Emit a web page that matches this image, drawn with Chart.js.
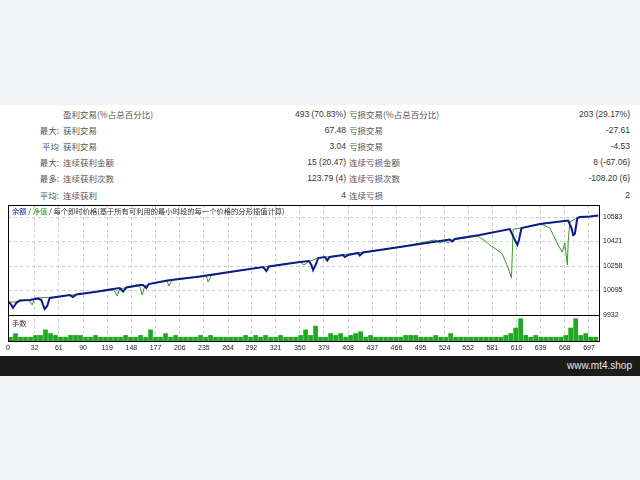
<!DOCTYPE html>
<html><head><meta charset="utf-8">
<script src="https://cdn.jsdelivr.net/npm/chart.js@4"></script>
<style>
html,body{margin:0;padding:0;width:640px;height:480px;background:#f2f3f5;overflow:hidden;font-family:"Liberation Sans","Noto Sans CJK SC",sans-serif;}
#white{position:absolute;left:0;top:105px;width:640px;height:251px;background:#fff;}
#footer{position:absolute;left:0;top:356px;width:640px;height:20px;background:#1c1c1c;}
#footer span{position:absolute;right:8px;top:0;line-height:20px;font-size:10px;color:#e6e6e6;font-family:"Liberation Sans",sans-serif;}
.row{position:absolute;left:0;width:640px;height:16px;line-height:16px;font-size:8.5px;color:#444;}
.c{position:absolute;top:0;white-space:nowrap;}
.lab{color:#555;font-family:"Noto Sans CJK SC","Liberation Sans",sans-serif;}
.val{color:#333;}
#chartBox{position:absolute;left:0;top:195px;width:640px;height:160px;}
</style></head>
<body>
<div id="white"></div>
<div id="table"></div>
<div id="chartBox"><canvas id="c" width="640" height="160"></canvas></div>
<div id="footer"><span>www.mt4.shop</span></div>
<script>
// ---------- table data ----------
const rowHead    = ["", "最大:", "平均", "最大:", "最多:", "平均:"];
const winLabels  = ["盈利交易(%占总百分比)", "获利交易", "获利交易", "连续获利金额", "连续获利次数", "连续获利"];
const winValues  = ["493 (70.83%)", "67.48", "3.04", "15 (20.47)", "123.79 (4)", "4"];
const lossLabels = ["亏损交易(%占总百分比)", "亏损交易", "亏损交易", "连续亏损金额", "连续亏损次数", "连续亏损"];
const lossValues = ["203 (29.17%)", "-27.61", "-4.53", "8 (-67.06)", "-108.20 (6)", "2"];

// ---------- chart data ----------
const xTickVals = [0,32,61,90,119,148,177,206,235,264,292,321,350,379,408,437,466,495,524,552,581,610,639,668,697];
const yTickVals = [9932,10095,10258,10421,10583];

const balIdx = [0,4,6,10,14,26,36,40,42,44,47,50,62,74,78,82,104,122,134,138,142,158,162,166,169,191,230,270,306,310,313,350,361,364,366,370,372,380,383,386,402,404,408,420,422,426,470,530,533,536,566,602,607,611,613,616,638,672,676,678,680,683,686,698,708];
const balVal = [10025,9999,9979,10012,10028,10032,10042,10032,9999,9972,9992,10045,10055,10065,10052,10068,10085,10102,10112,10088,10115,10132,10132,10112,10138,10162,10188,10221,10251,10225,10255,10285,10291,10265,10231,10278,10311,10318,10295,10318,10331,10318,10331,10345,10328,10348,10384,10434,10421,10438,10464,10504,10444,10398,10431,10511,10537,10561,10511,10464,10471,10577,10584,10587,10594];

const eqIdx = [0,7,14,25,29,32,42,47,50,62,82,104,127,131,134,142,158,161,164,169,191,193,197,238,240,244,270,306,350,355,360,372,420,470,512,518,524,528,533,563,571,578,587,593,596,600,604,606,616,638,642,650,656,660,665,668,671,672,674,683,708];
const eqVal = [10018,10018,10025,10032,9999,10045,10048,10048,10045,10055,10068,10085,10098,10058,10105,10115,10125,10065,10125,10138,10158,10125,10165,10191,10152,10195,10221,10251,10285,10265,10285,10311,10345,10384,10431,10411,10424,10411,10431,10458,10431,10398,10364,10338,10298,10245,10178,10504,10511,10537,10531,10511,10444,10398,10351,10411,10265,10418,10551,10577,10594];

const lotIdx = [3,9,15,21,27,33,39,45,51,57,63,69,75,81,87,93,99,105,111,117,123,129,135,141,147,153,159,165,171,177,183,189,195,201,207,213,219,225,231,237,243,249,255,261,267,273,279,285,291,297,303,309,315,321,327,333,339,345,351,357,363,369,375,381,387,393,399,405,411,417,423,429,435,441,447,453,459,465,471,477,483,489,495,501,507,513,519,525,531,537,543,549,555,561,567,573,579,585,591,597,603,609,615,621,627,633,639,645,651,657,663,669,675,681,687,693,699,705];
const lotVal = [
0.01,0.02,0.01,0.01,0.01,0.015,0.015,0.03,0.02,0.015,
0.01,0.01,0.015,0.015,0.015,0.01,0.01,0.015,0.01,0.01,
0.01,0.01,0.01,0.015,0.01,0.01,0.015,0.01,0.03,0.01,
0.01,0.02,0.01,0.015,0.01,0.01,0.01,0.01,0.015,0.01,
0.015,0.01,0.01,0.01,0.01,0.01,0.01,0.015,0.01,0.015,
0.01,0.015,0.01,0.01,0.015,0.01,0.01,0.01,0.015,0.03,
0.015,0.04,0.01,0.01,0.02,0.015,0.02,0.01,0.015,0.02,
0.025,0.01,0.015,0.01,0.01,0.01,0.01,0.01,0.01,0.015,
0.015,0.015,0.01,0.01,0.01,0.015,0.01,0.01,0.02,0.01,
0.01,0.01,0.01,0.01,0.01,0.01,0.01,0.01,0.01,0.015,
0.02,0.035,0.06,0.015,0.01,0.015,0.01,0.01,0.01,0.01,
0.01,0.015,0.035,0.06,0.015,0.02,0.01,0.01];

// ---------- table ----------
const rowCenters = [113.5,129.7,145.9,162.1,178.3,194.5];
const tbl = document.getElementById('table');
rowHead.forEach((h,i)=>{
  const r = document.createElement('div');
  r.className='row'; r.style.top=(rowCenters[i]-8)+'px';
  r.innerHTML =
    '<span class="c lab" style="right:581px">'+h+'</span>'+
    '<span class="c lab" style="left:63px">'+winLabels[i]+'</span>'+
    '<span class="c val" style="right:294px">'+winValues[i]+'</span>'+
    '<span class="c lab" style="left:349px">'+lossLabels[i]+'</span>'+
    '<span class="c val" style="right:10px">'+lossValues[i]+'</span>';
  tbl.appendChild(r);
});

// ---------- chart ----------
const toXY = (xs, ys) => xs.map((v,i)=>({x:v, y:ys[i]}));

const framePlugin = {
  id:'frame',
  afterDraw(chart){
    const {ctx, scales:{x,y,y2}} = chart;
    ctx.save();
    ctx.strokeStyle='#000'; ctx.lineWidth=1;
    const L=Math.round(x.left)+0.5, W=Math.round(x.right-x.left);
    ctx.strokeRect(L, Math.round(y.top)+0.5, W, Math.round(y.bottom-y.top));
    ctx.strokeRect(L, Math.round(y2.top)+0.5, W, Math.round(y2.bottom-y2.top));
    // title
    ctx.textBaseline='middle';
    ctx.font='7.3px "Noto Sans CJK SC", "Liberation Sans"';
    let tx = x.left+4; const ty = y.top+6.5;
    const parts = [['余额','#1020b0'],[' / ','#333'],['净值','#2a9a2a'],[' / 每个即时价格(基于所有可利用的最小时段的每一个价格的分形插值计算)','#333']];
    parts.forEach(([t,c])=>{ctx.fillStyle=c; ctx.fillText(t,tx,ty); tx+=ctx.measureText(t).width;});
    ctx.fillStyle='#333';
    ctx.fillText('手数', x.left+4, y2.top+8);
    ctx.restore();
  }
};

const gridCol = '#cccccc';
new Chart(document.getElementById('c'), {
  type:'line',
  data:{
    datasets:[
      {label:'余额', data:toXY(balIdx,balVal), borderColor:'#0c1a8a', borderWidth:2, pointRadius:0, tension:0, yAxisID:'y', xAxisID:'x'},
      {label:'净值', data:toXY(eqIdx,eqVal), borderColor:'#3a9a2a', borderWidth:1, pointRadius:0, tension:0, yAxisID:'y', xAxisID:'x'},
      {type:'bar', label:'手数', data:toXY(lotIdx,lotVal), backgroundColor:'#1eaa1e', barThickness:4, yAxisID:'y2', xAxisID:'x'}
    ]
  },
  options:{
    responsive:false, animation:false, devicePixelRatio:1,
    layout:{padding:{left:8, top:10, right:0, bottom:0}},
    plugins:{legend:{display:false}, tooltip:{enabled:false}},
    scales:{
      x:{type:'linear', min:0, max:709, offset:false,
         afterBuildTicks:s=>{s.ticks = xTickVals.map(v=>({value:v}));},
         afterFit:s=>{s.height=14;},
         grid:{color:gridCol, drawTicks:false, offset:false}, border:{display:false, dash:[3,3]},
         ticks:{autoSkip:false, maxRotation:0, padding:3, color:'#222', font:{size:7, family:'Liberation Sans'}, callback:v=>String(v)}},
      y:{type:'linear', position:'right', stack:'p', stackWeight:110, min:9932, max:10664,
         afterBuildTicks:s=>{s.ticks = yTickVals.map(v=>({value:v}));},
         afterFit:s=>{s.width=41;},
         grid:{color:gridCol, drawTicks:false}, border:{display:false, dash:[3,3]},
         ticks:{padding:4, color:'#222', font:{size:7, family:'Liberation Sans'}, callback:v=>String(v)}},
      y2:{type:'linear', position:'right', stack:'p', stackWeight:26, min:0, max:0.07,
         afterFit:s=>{s.width=41;},
         grid:{display:false}, border:{display:false}, ticks:{display:false}}
    }
  },
  plugins:[framePlugin]
});
</script>
</body></html>
